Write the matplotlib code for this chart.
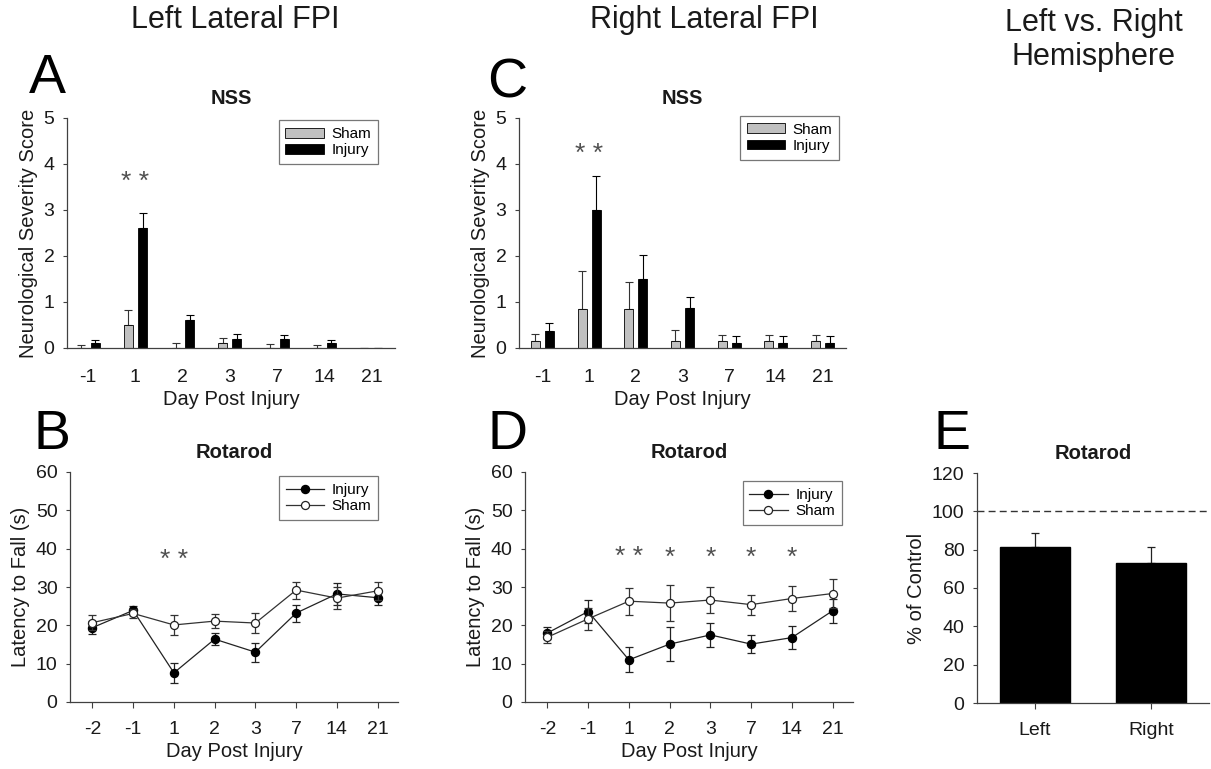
import numpy as np
import matplotlib.pyplot as plt

plt.rcParams['font.family'] = ['Liberation Sans', 'DejaVu Sans']

# ---- data ----
nss_days = ['-1', '1', '2', '3', '7', '14', '21']

# A: left lateral FPI, NSS
left_sham = [0.0, 0.5, 0.0, 0.1, 0.0, 0.0, 0.0]
left_sham_err = [0.06, 0.33, 0.1, 0.11, 0.09, 0.065, 0.0]
left_inj = [0.1, 2.6, 0.6, 0.2, 0.2, 0.1, 0.0]
left_inj_err = [0.07, 0.34, 0.12, 0.11, 0.08, 0.07, 0.0]

# C: right lateral FPI, NSS
right_sham = [0.145, 0.855, 0.855, 0.145, 0.145, 0.145, 0.145]
right_sham_err = [0.16, 0.82, 0.57, 0.25, 0.14, 0.14, 0.14]
right_inj = [0.37, 3.0, 1.49, 0.87, 0.116, 0.116, 0.116]
right_inj_err = [0.17, 0.75, 0.53, 0.23, 0.14, 0.14, 0.14]

rot_days = ['-2', '-1', '1', '2', '3', '7', '14', '21']

# B: left lateral FPI, rotarod
left_rot_inj = [19.4, 23.9, 7.6, 16.4, 13.0, 23.2, 28.2, 27.2]
left_rot_inj_err = [1.7, 1.2, 2.7, 1.6, 2.5, 2.2, 2.8, 2.0]
left_rot_sham = [20.7, 23.1, 20.1, 21.1, 20.6, 29.2, 27.1, 29.0]
left_rot_sham_err = [1.9, 1.2, 2.7, 1.9, 2.5, 2.2, 2.8, 2.4]

# D: right lateral FPI, rotarod
right_rot_inj = [18.0, 23.6, 11.0, 15.1, 17.5, 15.1, 16.8, 23.8]
right_rot_inj_err = [1.5, 2.9, 3.3, 4.4, 3.1, 2.3, 3.0, 3.2]
right_rot_sham = [16.9, 21.7, 26.3, 25.8, 26.6, 25.4, 27.0, 28.3]
right_rot_sham_err = [1.5, 2.9, 3.5, 4.6, 3.3, 2.6, 3.2, 3.7]

# E: % of control
sides = ['Left', 'Right']
pct_control = [81.4, 73.0]
pct_err = [7.3, 8.4]

TXT = '#1a1a1a'
SPINE = '#404040'
TICK_FS = 14
LAB_FS = 14.5

fig = plt.figure(figsize=(12.11, 7.69), dpi=100)
W, H = 1211, 769


def axes_px(x0, x1, y0, y1):
    return fig.add_axes([x0 / W, 1 - y1 / H, (x1 - x0) / W, (y1 - y0) / H])


def style(ax, xlen=3):
    for s in ['top', 'right']:
        ax.spines[s].set_visible(False)
    for s in ['left', 'bottom']:
        ax.spines[s].set_color(SPINE)
        ax.spines[s].set_linewidth(0.9)
    ax.tick_params(axis='y', length=3, width=0.8, color=SPINE, labelsize=TICK_FS,
                   labelcolor=TXT, pad=6)
    ax.tick_params(axis='x', length=xlen, width=0.8, color=SPINE, labelsize=TICK_FS,
                   labelcolor=TXT, pad=15 - xlen * 1.4)


def legend(ax, handles, labels, anchor):
    leg = ax.legend(handles, labels, loc='upper right', bbox_to_anchor=anchor,
                    borderaxespad=0, fontsize=11, frameon=True, fancybox=False,
                    edgecolor='#555555', handlelength=2.5, handleheight=0.6,
                    borderpad=0.45, labelspacing=0.15, handletextpad=0.5)
    leg.get_frame().set_linewidth(0.9)


def nss_panel(ax, sham, sham_err, inj, inj_err, xlim, star_y, anchor):
    x = np.arange(len(nss_days))
    w = 0.19
    b1 = ax.bar(x - 0.15, sham, w, color='#c0c0c0', edgecolor='black', linewidth=0.6,
                zorder=2)
    b2 = ax.bar(x + 0.15, inj, w, color='black', edgecolor='black', linewidth=0.6,
                zorder=2)
    ax.errorbar(x - 0.15, sham, yerr=[np.zeros(len(x)), sham_err], fmt='none',
                ecolor='#333333', elinewidth=0.8, capsize=3, capthick=0.8, zorder=1)
    ax.errorbar(x + 0.15, inj, yerr=[np.zeros(len(x)), inj_err], fmt='none',
                ecolor='black', elinewidth=0.8, capsize=3, capthick=0.8, zorder=1)
    ax.set_xlim(*xlim)
    ax.set_ylim(0, 5)
    ax.set_yticks(range(6))
    ax.set_xticks(x)
    ax.set_xticklabels(nss_days)
    style(ax, xlen=0)
    ax.set_xlabel('Day Post Injury', fontsize=LAB_FS, color=TXT, labelpad=3)
    ax.set_ylabel('Neurological Severity Score', fontsize=LAB_FS, color=TXT, labelpad=4)
    ax.set_title('NSS', fontsize=14.5, fontweight='bold', color=TXT, pad=10)
    ax.text(1, star_y, '* *', ha='center', va='center', fontsize=19, color='#505050')
    legend(ax, [b1, b2], ['Sham', 'Injury'], anchor)


def rot_panel(ax, inj, inj_err, sham, sham_err, stars, star_y, anchor):
    x = np.arange(len(rot_days))
    e1 = ax.errorbar(x, inj, yerr=inj_err, fmt='-o', color='#222222', mfc='black',
                     mec='black', ms=5.8, lw=0.9, elinewidth=0.9, capsize=2.8,
                     capthick=0.9, zorder=2)
    e2 = ax.errorbar(x, sham, yerr=sham_err, fmt='-o', color='#333333', mfc='white',
                     mec='#222222', mew=0.9, ms=5.8, lw=0.9, elinewidth=0.9,
                     capsize=2.8, capthick=0.9, zorder=3)
    ax.set_xlim(-0.55, 7.5)
    ax.set_ylim(0, 60)
    ax.set_yticks(range(0, 61, 10))
    ax.set_xticks(x)
    ax.set_xticklabels(rot_days)
    style(ax, xlen=4)
    ax.set_xlabel('Day Post Injury', fontsize=LAB_FS, color=TXT, labelpad=3)
    ax.set_ylabel('Latency to Fall (s)', fontsize=LAB_FS, color=TXT, labelpad=4)
    ax.set_title('Rotarod', fontsize=14.5, fontweight='bold', color=TXT, pad=10)
    for i, s in stars:
        ax.text(i, star_y, s, ha='center', va='center', fontsize=19, color='#505050')
    legend(ax, [e1[0], e2[0]], ['Injury', 'Sham'], anchor)


axA = axes_px(67, 395, 118, 348)
nss_panel(axA, left_sham, left_sham_err, left_inj, left_inj_err, (-0.45, 6.5),
          3.6, (0.948, 0.99))

axC = axes_px(519, 846, 118, 348)
nss_panel(axC, right_sham, right_sham_err, right_inj, right_inj_err, (-0.5, 6.5),
          4.22, (0.979, 1.01))

axB = axes_px(70, 398, 472, 702)
rot_panel(axB, left_rot_inj, left_rot_inj_err, left_rot_sham, left_rot_sham_err,
          [(2, '* *')], 37.0, (0.939, 0.983))

axD = axes_px(525, 853, 472, 702)
rot_panel(axD, right_rot_inj, right_rot_inj_err, right_rot_sham, right_rot_sham_err,
          [(2, '* *'), (3, '*'), (4, '*'), (5, '*'), (6, '*')], 37.7, (0.966, 0.961))

# E
axE = axes_px(977, 1209, 473, 703)
xe = np.arange(len(sides))
axE.bar(xe, pct_control, 0.6, color='black', edgecolor='black', zorder=2)
axE.errorbar(xe, pct_control, yerr=[np.zeros(2), pct_err], fmt='none',
             ecolor='#222222', elinewidth=0.9, capsize=3, capthick=0.9, zorder=1)
axE.axhline(100, color='#333333', lw=1.0, ls=(0, (5, 3)))
axE.set_xlim(-0.5, 1.5)
axE.set_ylim(0, 120)
axE.set_yticks(range(0, 121, 20))
axE.set_xticks(xe)
axE.set_xticklabels(sides)
style(axE, xlen=4)
axE.set_ylabel('% of Control', fontsize=LAB_FS, color=TXT, labelpad=4)
axE.set_title('Rotarod', fontsize=14.5, fontweight='bold', color=TXT, pad=10)

# column headers and panel letters
fig.text(235 / W, 1 - 20 / H, 'Left Lateral FPI', ha='center', va='center',
         fontsize=22, color=TXT)
fig.text(704 / W, 1 - 20 / H, 'Right Lateral FPI', ha='center', va='center',
         fontsize=22, color=TXT)
fig.text(1094 / W, 1 - 40 / H, 'Left vs. Right\nHemisphere', ha='center',
         va='center', fontsize=22, color=TXT, linespacing=1.18)

for lab, px, py in [('A', 47, 79), ('C', 507, 83), ('B', 52, 435),
                    ('D', 508, 435), ('E', 952, 435)]:
    fig.text(px / W, 1 - py / H, lab, ha='center', va='center', fontsize=40,
             color='black')

fig.savefig('out.png', dpi=100, facecolor='white')
